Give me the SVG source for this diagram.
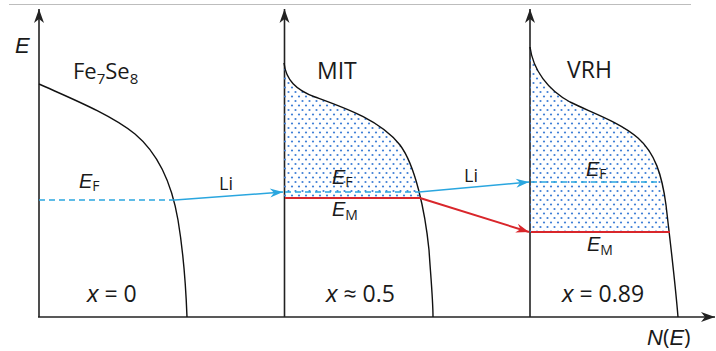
<svg xmlns="http://www.w3.org/2000/svg" width="716" height="351" viewBox="0 0 716 351">
  <style>
    text { font-family: "Open Sans", "Liberation Sans", sans-serif; fill: #1a1a1a; }
    .axis { stroke: #222; stroke-width: 1.6; fill: none; }
    .dos { stroke: #111; stroke-width: 1.4; fill: none; }
    .ef { stroke: #2aa6df; stroke-width: 1.5; stroke-dasharray: 6 4; fill: none; }
    .blue { stroke: #2aa6df; stroke-width: 1.5; fill: none; }
    .red { stroke: #d9262b; stroke-width: 2; fill: none; }
    .lbl { font-size: 23px; }
    .it { font-style: italic; font-family: "Liberation Sans", "Open Sans", sans-serif; }
    .xl { font-size: 23px; }
    .lv { font-size: 20px; }
    .sub { font-size: 14px; }
  </style>
  <defs>
    <marker id="ahK" markerUnits="userSpaceOnUse" markerWidth="16" markerHeight="12" viewBox="-14 -6 16 12" refX="0" refY="0" orient="auto">
      <path d="M0,0 L-14,-5 L-10,0 L-14,5 Z" fill="#222"/>
    </marker>
    <marker id="ahB" markerUnits="userSpaceOnUse" markerWidth="16" markerHeight="12" viewBox="-14 -6 16 12" refX="0" refY="0" orient="auto">
      <path d="M0,0 L-13,-4.5 L-9,0 L-13,4.5 Z" fill="#2aa6df"/>
    </marker>
    <marker id="ahR" markerUnits="userSpaceOnUse" markerWidth="16" markerHeight="12" viewBox="-14 -6 16 12" refX="0" refY="0" orient="auto">
      <path d="M0,0 L-13,-4.5 L-9,0 L-13,4.5 Z" fill="#d9262b"/>
    </marker>
    <pattern id="dots" patternUnits="userSpaceOnUse" width="7" height="9">
      <circle cx="1.5" cy="2" r="1.1" fill="#3f7fd6"/>
      <circle cx="5" cy="6.5" r="1.1" fill="#3f7fd6"/>
    </pattern>
    <clipPath id="clip2"><rect x="284" y="40" width="160" height="158"/></clipPath>
    <clipPath id="clip3"><rect x="530" y="30" width="160" height="202"/></clipPath>
  </defs>

  <line x1="9" y1="4.5" x2="691" y2="4.5" stroke="#bdbdbd" stroke-width="1"/>

  <g id="axes">
    <line class="axis" x1="38" y1="317" x2="715" y2="317" marker-end="url(#ahK)"/>
    <line class="axis" x1="39" y1="317" x2="39" y2="9" marker-end="url(#ahK)"/>
    <line class="axis" x1="284.5" y1="317" x2="284.5" y2="9" marker-end="url(#ahK)"/>
    <line class="axis" x1="530" y1="317" x2="530" y2="9" marker-end="url(#ahK)"/>
    <text x="15" y="53" class="it" font-size="22">E</text>
    <text x="647" y="345" font-size="22"><tspan class="it">N</tspan>(<tspan class="it">E</tspan>)</text>
  </g>

  <g id="panel-fe7se8">
    <path class="dos" d="M39,84 C70,98 110,114 135,134 C160,155 172,185 178,220 C183,250 186,290 187,317"/>
    <line class="ef" x1="39" y1="200" x2="175" y2="200"/>
    <text x="73" y="79" font-size="22">Fe<tspan font-size="15" dy="5">7</tspan><tspan dy="-5">Se</tspan><tspan font-size="15" dy="5">8</tspan></text>
    <text x="79" y="188" class="lv"><tspan class="it">E</tspan><tspan class="sub" dy="3">F</tspan></text>
    <text x="87" y="302" class="xl"><tspan class="it">x</tspan> = 0</text>
  </g>

  <g id="panel-mit">
    <path d="M284,63 C286,80 296,90 315,97 C345,108 380,120 400,145 C415,165 425,210 429,250 C431,280 433,300 433,317 L284,317 Z" fill="url(#dots)" stroke="none" clip-path="url(#clip2)"/>
    <path class="dos" d="M284,63 C286,80 296,90 315,97 C345,108 380,120 400,145 C415,165 425,210 429,250 C431,280 433,300 433,317"/>
    <line class="ef" x1="285" y1="192" x2="419" y2="192"/>
    <line class="red" x1="285" y1="198" x2="420" y2="198"/>
    <text x="317" y="79" class="lbl">MIT</text>
    <text x="332" y="184" class="lv"><tspan class="it">E</tspan><tspan class="sub" dy="3">F</tspan></text>
    <text x="332" y="216" class="lv"><tspan class="it">E</tspan><tspan class="sub" dy="4">M</tspan></text>
    <text x="326" y="302" class="xl"><tspan class="it">x</tspan> ≈ 0.5</text>
  </g>

  <g id="panel-vrh">
    <path d="M530,47 C533,70 548,90 570,102 C590,112 620,122 638,138 C655,153 662,175 666,205 C670,240 675,280 678,317 L530,317 Z" fill="url(#dots)" stroke="none" clip-path="url(#clip3)"/>
    <path class="dos" d="M530,47 C533,70 548,90 570,102 C590,112 620,122 638,138 C655,153 662,175 666,205 C670,240 675,280 678,317"/>
    <line class="ef" x1="531" y1="182" x2="660" y2="182"/>
    <line class="red" x1="531" y1="232" x2="670" y2="232"/>
    <text x="567" y="78" class="lbl">VRH</text>
    <text x="586" y="176" class="lv"><tspan class="it">E</tspan><tspan class="sub" dy="3">F</tspan></text>
    <text x="587" y="251" class="lv"><tspan class="it">E</tspan><tspan class="sub" dy="4">M</tspan></text>
    <text x="562" y="302" class="xl"><tspan class="it">x</tspan> = 0.89</text>
  </g>

  <g id="connectors">
    <line class="blue" x1="175" y1="200" x2="283" y2="192" marker-end="url(#ahB)"/>
    <line class="blue" x1="419" y1="192" x2="529" y2="182" marker-end="url(#ahB)"/>
    <line class="red" x1="420" y1="198" x2="529" y2="232" marker-end="url(#ahR)"/>
    <text x="219" y="190" font-size="18">Li</text>
    <text x="464" y="182" font-size="18">Li</text>
  </g>
</svg>
